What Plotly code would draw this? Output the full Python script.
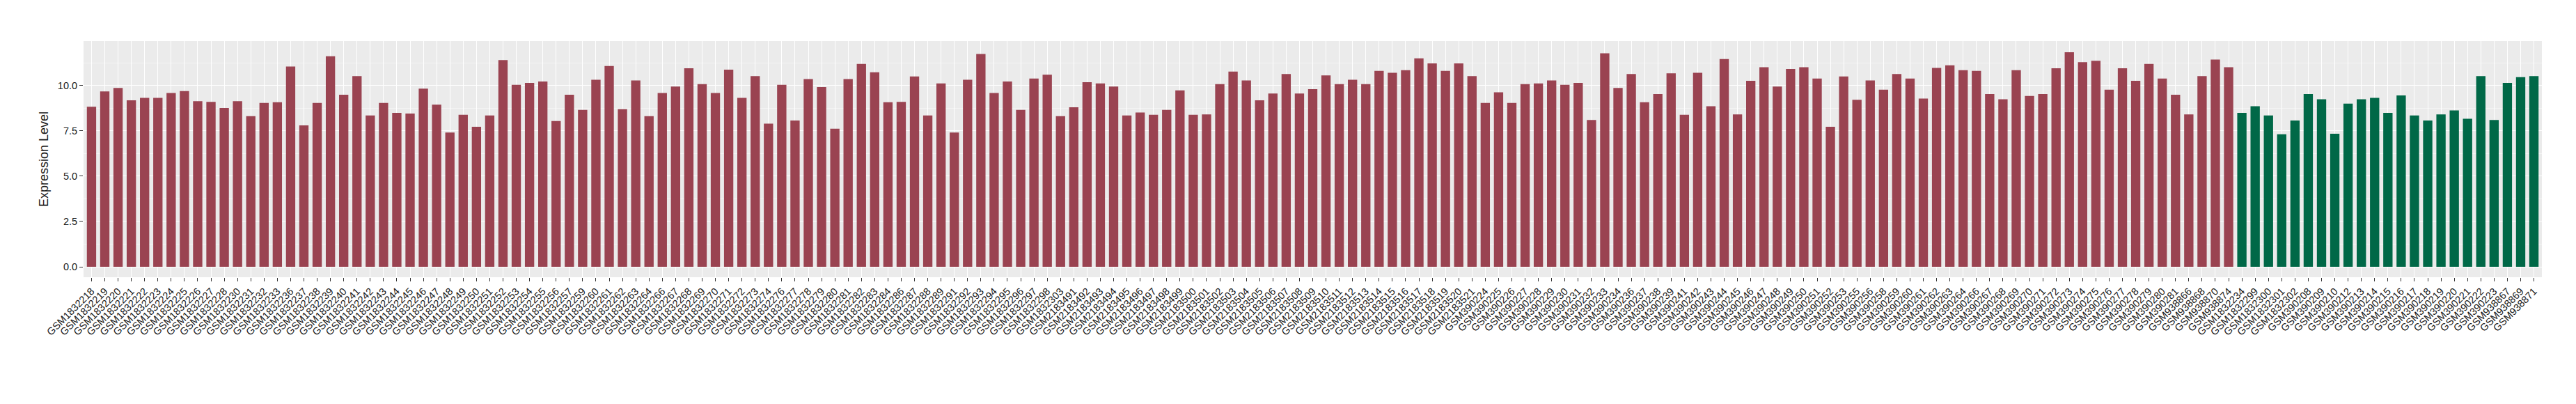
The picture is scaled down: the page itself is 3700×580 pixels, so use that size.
import plotly.graph_objects as go

red_samples = [
    "GSM1832218","GSM1832219","GSM1832220","GSM1832221","GSM1832222","GSM1832223","GSM1832224","GSM1832225",
    "GSM1832226","GSM1832227","GSM1832228","GSM1832230","GSM1832231","GSM1832232","GSM1832233","GSM1832236",
    "GSM1832237","GSM1832238","GSM1832239","GSM1832240","GSM1832241","GSM1832242","GSM1832243","GSM1832244",
    "GSM1832245","GSM1832246","GSM1832247","GSM1832248","GSM1832249","GSM1832250","GSM1832251","GSM1832252",
    "GSM1832253","GSM1832254","GSM1832255","GSM1832256","GSM1832257","GSM1832259","GSM1832260","GSM1832261",
    "GSM1832262","GSM1832263","GSM1832264","GSM1832266","GSM1832267","GSM1832268","GSM1832269","GSM1832270",
    "GSM1832271","GSM1832272","GSM1832273","GSM1832274","GSM1832276","GSM1832277","GSM1832278","GSM1832279",
    "GSM1832280","GSM1832281","GSM1832282","GSM1832283","GSM1832284","GSM1832286","GSM1832287","GSM1832288",
    "GSM1832289","GSM1832291","GSM1832292","GSM1832293","GSM1832294","GSM1832295","GSM1832296","GSM1832297",
    "GSM1832298","GSM1832303","GSM2183491","GSM2183492","GSM2183493","GSM2183494","GSM2183495","GSM2183496",
    "GSM2183497","GSM2183498","GSM2183499","GSM2183500","GSM2183501","GSM2183502","GSM2183503","GSM2183504",
    "GSM2183505","GSM2183506","GSM2183507","GSM2183508","GSM2183509","GSM2183510","GSM2183511","GSM2183512",
    "GSM2183513","GSM2183514","GSM2183515","GSM2183516","GSM2183517","GSM2183518","GSM2183519","GSM2183520",
    "GSM2183521","GSM390224","GSM390225","GSM390226","GSM390227","GSM390228","GSM390229","GSM390230",
    "GSM390231","GSM390232","GSM390233","GSM390234","GSM390236","GSM390237","GSM390238","GSM390239",
    "GSM390241","GSM390242","GSM390243","GSM390244","GSM390245","GSM390246","GSM390247","GSM390248",
    "GSM390249","GSM390250","GSM390251","GSM390252","GSM390253","GSM390255","GSM390256","GSM390258",
    "GSM390259","GSM390260","GSM390261","GSM390262","GSM390263","GSM390264","GSM390266","GSM390267",
    "GSM390268","GSM390269","GSM390270","GSM390271","GSM390272","GSM390273","GSM390274","GSM390275",
    "GSM390276","GSM390277","GSM390278","GSM390279","GSM390280","GSM390281","GSM938866","GSM938868",
    "GSM938870","GSM938874",
]
red_values = [
    8.83, 9.67, 9.87, 9.18, 9.32, 9.32, 9.59, 9.69,
    9.14, 9.10, 8.76, 9.14, 8.31, 9.04, 9.08, 11.05,
    7.80, 9.04, 11.61, 9.49, 10.52, 8.35, 9.04, 8.49,
    8.45, 9.83, 8.94, 7.41, 8.39, 7.72, 8.35, 11.40,
    10.04, 10.14, 10.22, 8.04, 9.49, 8.66, 10.32, 11.08,
    8.69, 10.28, 8.31, 9.59, 9.94, 10.95, 10.08, 9.59,
    10.87, 9.32, 10.52, 7.90, 10.04, 8.07, 10.36, 9.91,
    7.62, 10.36, 11.19, 10.73, 9.08, 9.10, 10.50, 8.35,
    10.12, 7.41, 10.32, 11.74, 9.59, 10.22, 8.66, 10.38,
    10.60, 8.31, 8.80, 10.18, 10.12, 9.94, 8.35, 8.51,
    8.39, 8.66, 9.73, 8.39, 8.41, 10.08, 10.77, 10.28,
    9.18, 9.56, 10.63, 9.56, 9.80, 10.56, 10.08, 10.32,
    10.08, 10.81, 10.70, 10.85, 11.50, 11.22, 10.81, 11.22,
    10.52, 9.04, 9.63, 9.04, 10.08, 10.12, 10.28, 10.04,
    10.14, 8.10, 11.78, 9.87, 10.63, 9.08, 9.53, 10.67,
    8.39, 10.70, 8.86, 11.46, 8.41, 10.26, 11.01, 9.94,
    10.91, 11.01, 10.38, 7.72, 10.50, 9.21, 10.28, 9.77,
    10.63, 10.38, 9.28, 10.97, 11.11, 10.85, 10.81, 9.53,
    9.24, 10.85, 9.42, 9.53, 10.95, 11.84, 11.29, 11.36,
    9.77, 10.95, 10.26, 11.19, 10.38, 9.49, 8.41, 10.52,
    11.43, 11.01,
]

green_samples = [
    "GSM1832234","GSM1832299","GSM1832300","GSM1832301","GSM1832302","GSM390208","GSM390209","GSM390210",
    "GSM390212","GSM390213","GSM390214","GSM390215","GSM390216","GSM390217","GSM390218","GSM390219",
    "GSM390220","GSM390221","GSM390222","GSM390223","GSM938867","GSM938869","GSM938871",
]
green_values = [
    8.49, 8.86, 8.35, 7.31, 8.07, 9.53, 9.24, 7.34,
    9.00, 9.24, 9.32, 8.49, 9.45, 8.35, 8.07, 8.41,
    8.63, 8.17, 10.52, 8.10, 10.14, 10.46, 10.52,
]

y_ticks = [0, 2.5, 5, 7.5, 10]
y_tick_labels = ["0.0", "2.5", "5.0", "7.5", "10.0"]

red_color = "#9A4351"
green_color = "#006847"
all_samples = red_samples + green_samples

fig = go.Figure()
fig.add_trace(go.Bar(x=red_samples, y=red_values, marker_color=red_color,
                     marker_line_width=0, showlegend=False))
fig.add_trace(go.Bar(x=green_samples, y=green_values, marker_color=green_color,
                     marker_line_width=0, showlegend=False))

n = len(all_samples)
fig.update_layout(
    width=3700, height=580,
    barmode="overlay", bargap=0.3,
    paper_bgcolor="white", plot_bgcolor="#EBEBEB",
    margin=dict(l=112, r=57, t=51, b=190, autoexpand=False),
    font=dict(family="Liberation Sans, Arial, sans-serif", color="#1a1a1a"),
    xaxis=dict(
        type="category", categoryorder="array", categoryarray=all_samples,
        range=[-0.6, n - 0.4], tickangle=-45,
        tickfont=dict(size=14.5, color="#1a1a1a"),
        showgrid=True, gridcolor="white", gridwidth=1.1,
        ticks="outside", ticklen=5, tickcolor="#333333", tickwidth=1,
        showline=False, zeroline=False, automargin=False,
    ),
    yaxis=dict(
        range=[-0.576, 12.45],
        tickmode="array", tickvals=y_ticks, ticktext=y_tick_labels,
        tickfont=dict(size=14.5, color="#1a1a1a"),
        showgrid=True, gridcolor="white", gridwidth=1.1,
        minor=dict(tickmode="array", tickvals=[1.25, 3.75, 6.25, 8.75, 11.25],
                   showgrid=True, gridcolor="#F5F5F5", gridwidth=0.6, ticks=""),
        ticks="outside", ticklen=5, tickcolor="#333333", tickwidth=1,
        showline=False, zeroline=False, automargin=False,
        title=dict(text="Expression Level", font=dict(size=18, color="#1a1a1a"), standoff=8),
    ),
)

fig.write_html("out.html")
